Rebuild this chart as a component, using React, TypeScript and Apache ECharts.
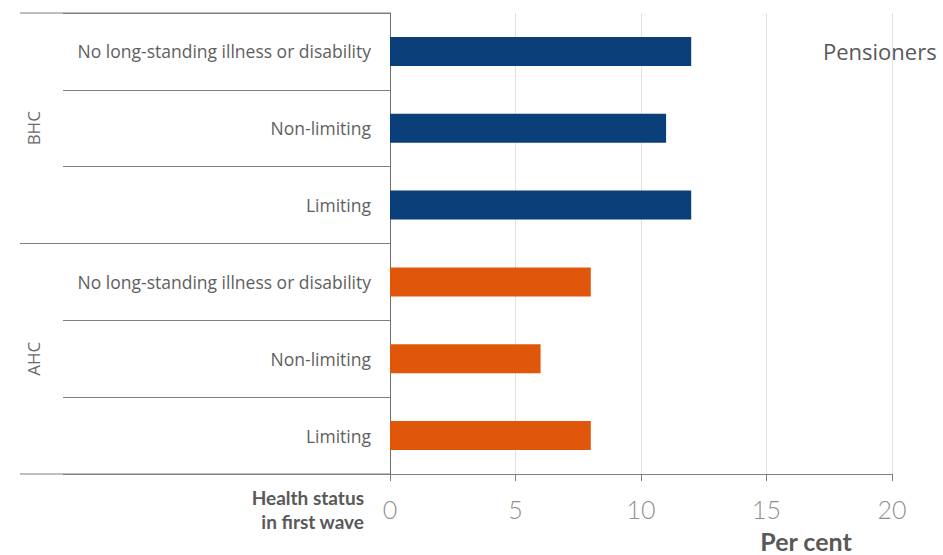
import React, { useEffect, useRef } from "react";
import * as echarts from "echarts";

const categories = [
  "No long-standing illness or disability",
  "Non-limiting",
  "Limiting",
  "No long-standing illness or disability",
  "Non-limiting",
  "Limiting",
];
const groups = ["BHC", "AHC"];
const bhcValues = [12, 11, 12];
const ahcValues = [8, 6, 8];
const xTicks = [0, 5, 10, 15, 20];

const BLUE = "#0a3f7a";
const ORANGE = "#e0560b";

export default function App() {
  const ref = useRef<HTMLDivElement>(null);
  useEffect(() => {
    const chart = echarts.init(ref.current!, null, { renderer: "svg" });
    const gl = 390, gr = 51, gt = 13, gb = 81;
    const H = 555;
    const gh = H - gt - gb;
    const band = gh / categories.length;
    const data = [
      ...bhcValues.map((v) => ({ value: v, itemStyle: { color: BLUE } })),
      ...ahcValues.map((v) => ({ value: v, itemStyle: { color: ORANGE } })),
    ];
    const lineC = "#7f7f7f";
    const font = "Lato, 'Open Sans', sans-serif";
    const catFont = "'Open Sans', sans-serif";
    chart.setOption({
      animation: false,
      grid: { left: gl, right: gr, top: gt, bottom: gb, containLabel: false },
      xAxis: {
        type: "value",
        min: xTicks[0],
        max: xTicks[xTicks.length - 1],
        interval: 5,
        axisLine: { show: true, lineStyle: { color: lineC, width: 1 } },
        axisTick: { show: true, length: 7, lineStyle: { color: lineC } },
        splitLine: { show: true, lineStyle: { color: "#e0e0e0", width: 1 } },
        axisLabel: { color: "#8f8f8f", fontSize: 25, fontFamily: font, fontWeight: 300, margin: 22 },
      },
      yAxis: {
        type: "category",
        data: categories,
        inverse: true,
        axisLine: { show: true, lineStyle: { color: "#6f6f6f", width: 1 } },
        axisTick: { show: true, length: 327, lineStyle: { color: lineC } },
        axisLabel: { color: "#606060", fontSize: 17.5, fontFamily: catFont, margin: 19 },
        splitLine: { show: false },
      },
      series: [
        {
          type: "bar",
          data,
          barWidth: 29,
          silent: true,
        },
      ],
      graphic: [
        { type: "line", shape: { x1: 20, y1: gt, x2: gl, y2: gt }, style: { stroke: lineC, lineWidth: 1 } },
        { type: "line", shape: { x1: 20, y1: gt + band * 3, x2: gl, y2: gt + band * 3 }, style: { stroke: lineC, lineWidth: 1 } },
        { type: "line", shape: { x1: 20, y1: gt + gh, x2: gl, y2: gt + gh }, style: { stroke: lineC, lineWidth: 1 } },
        {
          type: "text", x: 33, y: gt + band * 1.5, rotation: Math.PI / 2,
          style: { text: groups[0], fill: "#6a6a6a", font: `17px ${catFont}`, align: "center", verticalAlign: "middle" },
        },
        {
          type: "text", x: 33, y: gt + band * 4.5, rotation: Math.PI / 2,
          style: { text: groups[1], fill: "#6a6a6a", font: `17px ${catFont}`, align: "center", verticalAlign: "middle" },
        },
        {
          type: "text", x: 364, y: 497,
          style: { text: "Health status", fill: "#595959", font: `bold 19px ${font}`, align: "right", verticalAlign: "middle" },
        },
        {
          type: "text", x: 364, y: 521,
          style: { text: "in first wave", fill: "#595959", font: `bold 19px ${font}`, align: "right", verticalAlign: "middle" },
        },
        {
          type: "text", x: 806, y: 541,
          style: { text: "Per cent", fill: "#595959", font: `bold 25px ${font}`, align: "center", verticalAlign: "middle" },
        },
        {
          type: "text", x: 823, y: 51,
          style: { text: "Pensioners", fill: "#595959", font: `22px 'Open Sans', sans-serif`, align: "left", verticalAlign: "middle" },
        },
      ],
    });
    return () => chart.dispose();
  }, []);
  return <div ref={ref} style={{ width: 943, height: 555, position: "absolute", left: 0, top: 0 }} />;
}
